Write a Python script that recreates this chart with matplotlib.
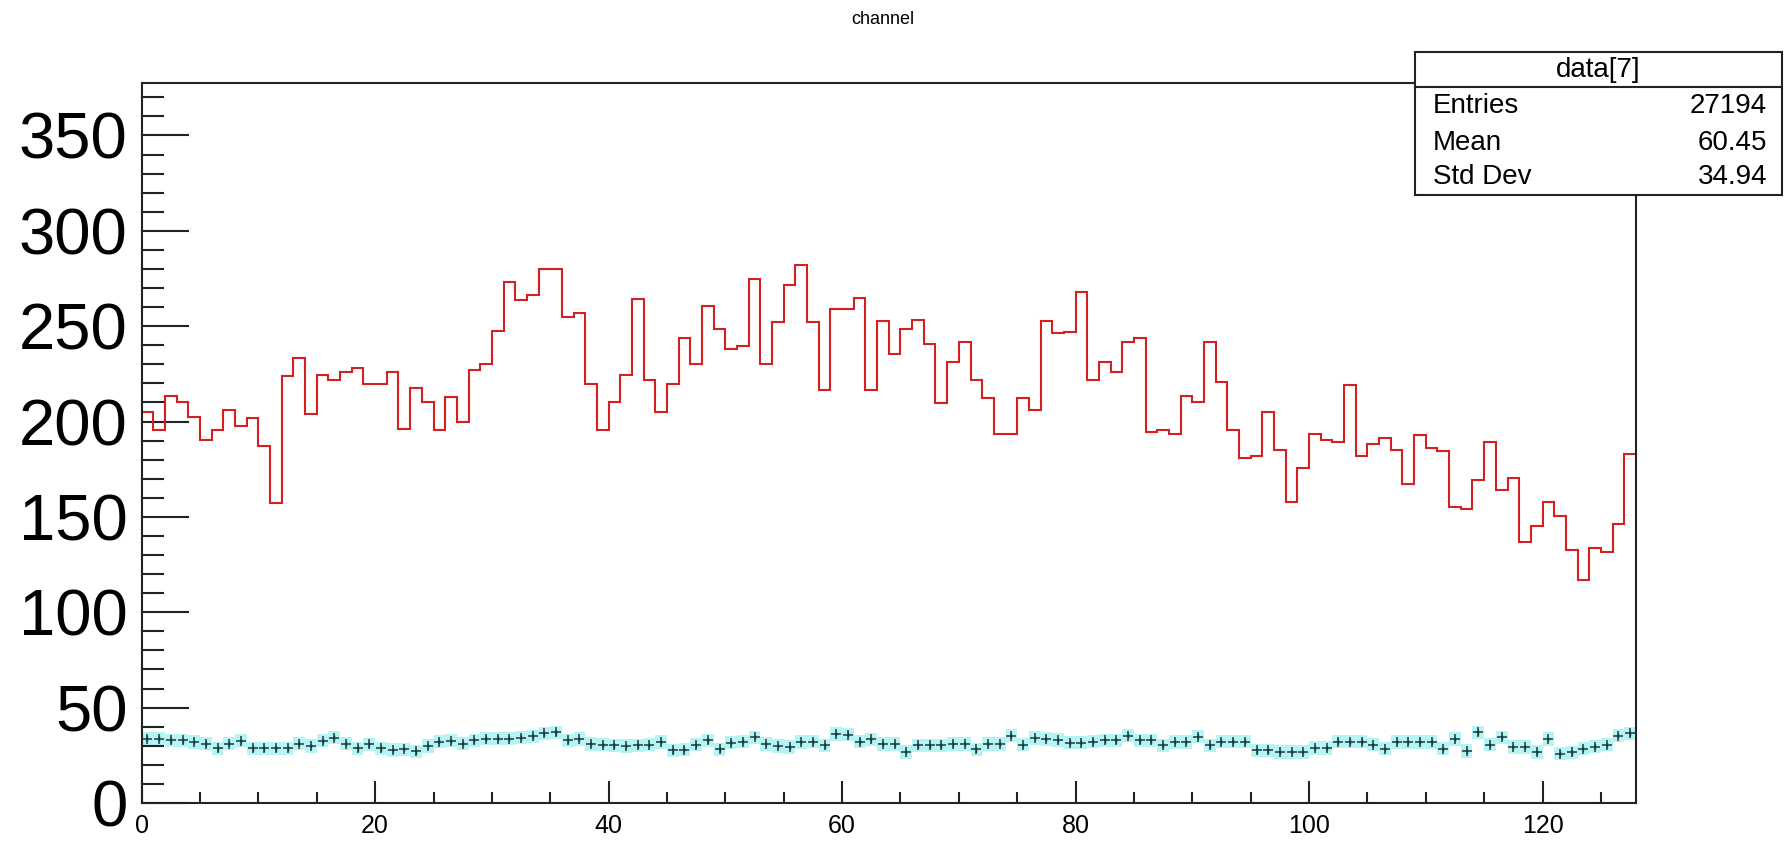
import numpy as np
import matplotlib.pyplot as plt
from matplotlib.patches import Rectangle
from matplotlib.ticker import MultipleLocator

plt.rcParams['font.family'] = ['Liberation Sans', 'DejaVu Sans']

# contenido de los 128 canales (histograma rojo)
red_counts = [
    205.0, 195.4, 213.4, 210.3, 202.4, 190.1, 195.4, 205.9, 197.5, 202.0,
    187.0, 157.4, 223.9, 233.5, 203.8, 224.2, 221.6, 226.0, 228.3, 219.5,
    219.5, 226.0, 196.3, 217.8, 210.3, 195.4, 212.9, 199.7, 227.2, 230.4,
    247.5, 273.3, 263.7, 266.3, 279.8, 279.8, 254.6, 256.7, 219.9, 195.4,
    210.3, 224.2, 264.0, 222.0, 205.0, 219.9, 244.0, 230.0, 260.7, 248.3,
    237.8, 239.5, 274.5, 230.0, 252.3, 271.5, 282.0, 252.3, 216.4, 258.8,
    258.8, 264.9, 216.4, 252.6, 235.3, 248.3, 253.5, 240.9, 209.9, 231.3,
    241.8, 222.0, 212.5, 193.6, 193.6, 212.5, 205.9, 252.6, 246.2, 247.1,
    268.0, 222.0, 231.3, 226.0, 241.8, 244.0, 194.4, 195.4, 193.6, 213.4,
    210.3, 241.8, 220.8, 195.4, 181.0, 181.7, 205.0, 185.2, 157.7, 175.6,
    193.6, 190.1, 189.2, 219.0, 181.7, 188.4, 191.3, 185.2, 167.4, 192.8,
    186.3, 184.3, 155.1, 154.2, 169.1, 189.2, 164.2, 170.3, 136.7, 145.0,
    157.7, 150.7, 132.7, 117.0, 133.8, 131.5, 146.4, 183.1,
]

# serie cian (puntos con banda de error)
cyan_vals = [
    33.8, 33.8, 32.9, 32.9, 32.0, 31.1, 28.7, 31.1, 32.6, 28.7,
    28.7, 28.7, 28.7, 31.1, 29.9, 32.6, 34.3, 31.1, 28.7, 30.8,
    28.7, 27.8, 28.2, 27.0, 29.9, 32.2, 32.6, 31.1, 32.9, 33.8,
    33.8, 33.8, 34.2, 35.0, 36.5, 37.0, 32.8, 33.6, 31.0, 30.5,
    30.2, 29.8, 30.2, 30.5, 31.9, 27.6, 27.9, 30.5, 32.8, 28.1,
    31.6, 32.2, 34.5, 31.0, 29.8, 29.3, 31.9, 32.2, 30.2, 36.2,
    35.9, 32.2, 33.3, 31.0, 31.0, 26.7, 30.2, 30.2, 30.2, 31.0,
    31.0, 28.1, 31.0, 31.0, 35.3, 30.5, 34.0, 33.6, 33.0, 31.6,
    31.6, 32.2, 32.8, 32.8, 35.3, 32.8, 32.8, 30.2, 31.9, 31.9,
    34.8, 30.2, 32.2, 32.2, 32.2, 27.6, 27.6, 26.7, 26.7, 26.7,
    28.8, 28.8, 32.2, 32.2, 32.2, 30.5, 28.4, 31.9, 31.9, 31.9,
    31.9, 28.4, 33.6, 27.2, 37.1, 30.5, 34.5, 29.3, 29.3, 26.7,
    33.6, 25.9, 26.5, 28.4, 29.5, 30.5, 35.3, 36.5,
]
cyan_err = 3.5

stat_names = ['Entries', 'Mean', 'Std Dev']
stat_values = ['27194', '60.45', '34.94']

n_bins = len(red_counts)
edges = np.arange(n_bins + 1)
centers = edges[:-1] + 0.5
red = np.array(red_counts)
cyan = np.array(cyan_vals)

fig = plt.figure(figsize=(17.84, 8.41), dpi=100)
ax = fig.add_axes([0.0794, 0.0452, 0.8376, 0.8561])

# banda cian y puntos
ax.fill_between(edges, np.append(cyan - cyan_err, cyan[-1] - cyan_err),
                np.append(cyan + cyan_err, cyan[-1] + cyan_err),
                step='post', color='#b4f4f4', linewidth=0, zorder=1)
ax.errorbar(centers, cyan, yerr=1.2, fmt='+', color='#1a3a3a', markersize=7,
            mew=1.1, elinewidth=1.0, capsize=0, zorder=3)

# histograma rojo
ax.stairs(red, edges, baseline=None, color='#d42020', linewidth=1.5, zorder=2)

ax.set_xlim(0, 128)
ax.set_ylim(0, 377.5)

ax.xaxis.set_major_locator(MultipleLocator(20))
ax.xaxis.set_minor_locator(MultipleLocator(5))
ax.yaxis.set_major_locator(MultipleLocator(50))
ax.yaxis.set_minor_locator(MultipleLocator(10))

ax.tick_params(axis='both', which='both', direction='in', top=False, right=False,
               width=1.5, color='#222222')
ax.tick_params(axis='y', which='major', length=34, labelsize=47, pad=10)
ax.tick_params(axis='y', which='minor', length=16)
ax.tick_params(axis='x', which='major', length=16, labelsize=18, pad=8)
ax.tick_params(axis='x', which='minor', length=8)

for s in ax.spines.values():
    s.set_linewidth(1.5)
    s.set_color('#222222')

fig.text(0.495, 0.977, 'channel', ha='center', va='center', fontsize=13)

# caja de estadisticas
x0, x1 = 0.793, 0.9989
y0, y1 = 0.768, 0.938
fig.patches.append(Rectangle((x0, y0), x1 - x0, y1 - y0, transform=fig.transFigure,
                             facecolor='white', edgecolor='#222222', linewidth=1.5,
                             zorder=10))
fig.lines.append(plt.Line2D([x0, x1], [0.8966, 0.8966], transform=fig.transFigure,
                            color='#222222', linewidth=1.5, zorder=11))
fig.text((x0 + x1) / 2, 0.917, 'data[7]', ha='center', va='center', fontsize=20,
         zorder=12)
row_y = [0.874, 0.830, 0.790]
for name, val, yy in zip(stat_names, stat_values, row_y):
    fig.text(0.803, yy, name, ha='left', va='center', fontsize=20, zorder=12)
    fig.text(0.9905, yy, val, ha='right', va='center', fontsize=20, zorder=12)

fig.savefig('out.png', dpi=100)
